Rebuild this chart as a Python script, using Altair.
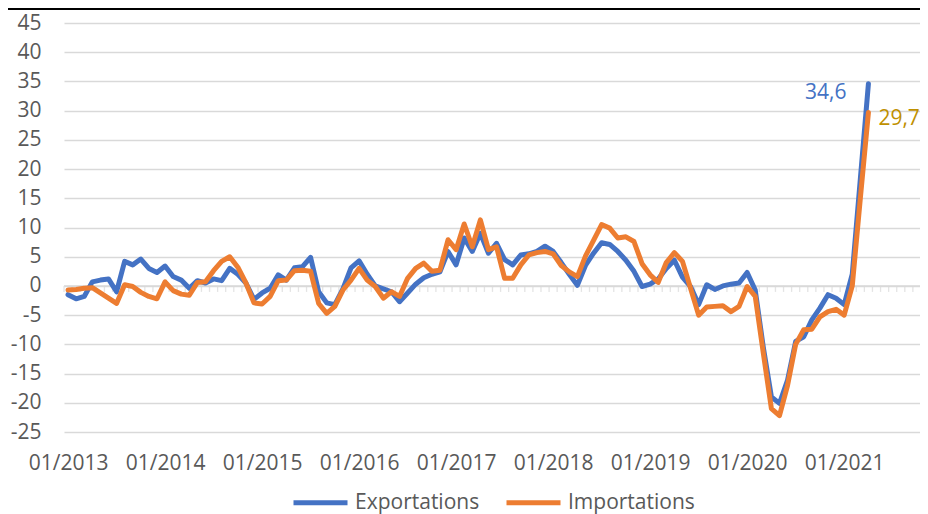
import altair as alt
import pandas as pd

# Monthly series, 01/2013 .. 04/2021 (100 months)
exportations = [
    -1.5, -2.2, -1.8, 0.7, 1.0, 1.2, -1.0, 4.2, 3.6, 4.6, 3.0, 2.3,
    3.4, 1.6, 1.0, -0.4, 0.9, 0.5, 1.2, 0.9, 3.0, 2.0, 0.5, -2.3,
    -1.2, -0.4, 1.9, 1.0, 3.1, 3.3, 4.9, -1.0, -2.9, -3.2, -0.5, 3.1,
    4.3, 2.0, 0.0, -0.5, -1.0, -2.7, -1.2, 0.3, 1.4, 2.0, 2.4, 5.9,
    3.6, 8.2, 5.9, 9.0, 5.6, 7.3, 4.5, 3.6, 5.3, 5.5, 5.9, 6.8,
    5.9, 4.0, 2.0, 0.1, 3.5, 5.6, 7.4, 7.1, 5.9, 4.4, 2.5, -0.1,
    0.3, 1.2, 3.0, 4.4, 1.5, -0.1, -3.2, 0.2, -0.6, 0.0, 0.3, 0.5,
    2.3, -0.7, -10.5, -19.0, -20.1, -16.1, -9.5, -8.7, -5.8, -3.8, -1.5, -2.1,
    -3.2, 2.0, 18.3, 34.6,
]
importations = [
    -0.7, -0.6, -0.4, -0.3, -1.2, -2.1, -3.0, 0.2, -0.1, -1.1, -1.8, -2.2,
    0.7, -0.8, -1.4, -1.6, 0.6, 0.7, 2.6, 4.2, 5.0, 3.2, 0.5, -2.9,
    -3.1, -1.8, 0.9, 1.0, 2.6, 2.7, 2.5, -3.0, -4.7, -3.5, -0.7, 1.0,
    3.0, 1.0, -0.1, -2.1, -1.0, -1.8, 1.3, 3.0, 3.9, 2.5, 2.7, 7.9,
    6.2, 10.6, 6.7, 11.3, 6.2, 6.7, 1.3, 1.3, 3.6, 5.3, 5.7, 5.9,
    5.5, 3.5, 2.4, 1.6, 5.1, 7.8, 10.5, 9.9, 8.2, 8.4, 7.6, 3.8,
    1.9, 0.6, 4.0, 5.7, 4.2, -0.4, -5.0, -3.6, -3.5, -3.4, -4.4, -3.5,
    -0.1, -1.8, -11.5, -21.0, -22.2, -17.0, -10.0, -7.5, -7.4, -5.3, -4.4, -4.0,
    -5.0, 0.0, 15.0, 29.7,
]
series_names = ["Exportations", "Importations"]
series_colors = ["#4472C4", "#ED7D31"]
year_label_months = [0, 12, 24, 36, 48, 60, 72, 84, 96]
y_ticks = [-25, -20, -15, -10, -5, 0, 5, 10, 15, 20, 25, 30, 35, 40, 45]
x_max = 105.38
last_labels = ["34,6", "29,7"]
label_colors = ["#4472C4", "#BF9000"]

rows = []
for name, vals in zip(series_names, [exportations, importations]):
    for i, v in enumerate(vals):
        rows.append({"i": i, "v": v, "serie": name})
df = pd.DataFrame(rows)

ticks_df = pd.DataFrame({"i": [k - 0.5 for k in range(int(x_max) + 1)], "v": 0.0})
last_i = len(exportations) - 1
ann_exp = pd.DataFrame({"i": [last_i], "v": [exportations[-1]], "t": [last_labels[0]]})
ann_imp = pd.DataFrame({"i": [last_i], "v": [importations[-1]], "t": [last_labels[1]]})
zero_df = pd.DataFrame({"v": [0.0]})

FONT = "Open Sans"
GRID = "#D9D9D9"
TXT = "#595959"
xscale = alt.Scale(domain=[-0.5, x_max], nice=False, zero=False)
yscale = alt.Scale(domain=[-25, 45], nice=False, zero=False)
xaxis = alt.Axis(
    values=year_label_months,
    labelExpr="'01/' + (2013 + datum.value / 12)",
    grid=False, ticks=False, domain=False, labelFlush=False,
    labelFontSize=21, labelFont=FONT, labelColor=TXT,
    labelPadding=20, title=None)
yaxis = alt.Axis(
    values=y_ticks, labelExpr="'' + datum.value",
    grid=True, gridColor=GRID, gridWidth=1.3,
    ticks=False, domain=False, labelFontSize=21, labelFont=FONT,
    labelColor=TXT, labelPadding=23, title=None)
X = alt.X("i:Q", scale=xscale, axis=xaxis)
Y = alt.Y("v:Q", scale=yscale, axis=yaxis)

zero_rule = alt.Chart(zero_df).mark_rule(color=GRID, strokeWidth=1.3).encode(y=Y)

zero_ticks = alt.Chart(ticks_df).mark_tick(orient="vertical", size=6, thickness=1.3,
                                            color=GRID, yOffset=3).encode(x=X, y=Y)

lines = alt.Chart(df).mark_line(strokeWidth=5, strokeCap="round", strokeJoin="round").encode(
    x=X, y=Y,
    color=alt.Color("serie:N", scale=alt.Scale(domain=series_names, range=series_colors),
                    legend=alt.Legend(orient="none", legendX=227, legendY=450,
                                      direction="horizontal", title=None,
                                      symbolType="stroke", symbolStrokeWidth=5,
                                      symbolSize=2916, labelFontSize=21,
                                      labelFont=FONT, labelColor=TXT,
                                      labelOffset=5, columnPadding=16, padding=0)),
)

text_exp = alt.Chart(ann_exp).mark_text(align="right", baseline="middle", dx=-22, dy=9,
                                        fontSize=21, font=FONT, color=label_colors[0]).encode(
    x=X, y=Y, text="t:N")
text_imp = alt.Chart(ann_imp).mark_text(align="left", baseline="middle", dx=10, dy=7,
                                        fontSize=21, font=FONT, color=label_colors[1]).encode(
    x=X, y=Y, text="t:N")

top_line = alt.Chart(zero_df).mark_rule(color="black", strokeWidth=2).encode(
    x=alt.value(-60), x2=alt.value(870), y=alt.value(-14)
)

chart = alt.layer(zero_rule, zero_ticks, lines, text_exp, text_imp, top_line).properties(
    width=856, height=409,
    autosize=alt.AutoSizeParams(type="none"),
    padding={"left": 56, "top": 15, "right": 0, "bottom": 82},
).configure_view(stroke="transparent")

chart.save("out.html", embed_options={"renderer": "svg", "actions": False})
